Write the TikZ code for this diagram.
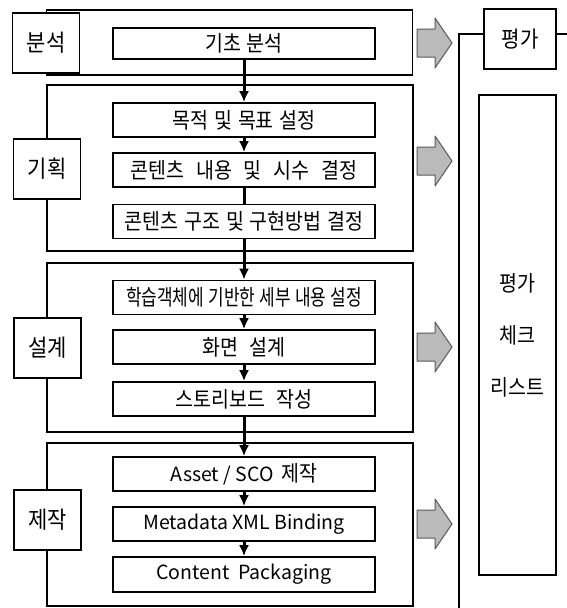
\documentclass[tikz,border=0pt]{standalone}
\usepackage{fontspec}
\usepackage{graphicx}
\setmainfont{Noto Sans CJK KR}
\usetikzlibrary{arrows.meta}
\newcommand{\kt}[1]{\scalebox{1}[1.12]{#1}}
\begin{document}
\begin{tikzpicture}[x=1pt,y=-1pt,
  phase/.style={draw,line width=1.3pt,minimum width=366pt,inner sep=0pt},
  lab/.style={draw,fill=white,line width=1.3pt,minimum width=67pt,minimum height=60pt,inner sep=0pt,font=\fontsize{21}{24}\selectfont},
  stepbox/.style={draw,fill=white,line width=1.6pt,minimum width=262pt,minimum height=34pt,inner sep=0pt,font=\fontsize{19.5}{22}\selectfont},
  latin/.style={font=\fontsize{19.5}{22}\selectfont},
  conn/.style={line width=3pt,-{Latex[length=11pt,width=10pt]}},
  plainconn/.style={line width=3pt},
  blk/.style={draw=black!65,fill=black!27,line width=1pt,line join=round},
  evalbox/.style={draw,line width=1.3pt,inner sep=0pt,font=\fontsize{20}{22}\selectfont}]
\useasboundingbox (0,0) rectangle (567,608);
% phase containers
\node[phase,minimum height=65pt] (p1) at (229.5,42.5) {};
\node[phase,minimum height=166pt] (p2) at (230,168) {};
\node[phase,minimum height=169pt] (p3) at (230,347.5) {};
\node[phase,minimum height=163pt] (p4) at (230,524.5) {};
% phase labels
\node[lab] (l1) at (46,43) {\kt{분석}};
\node[lab] (l2) at (47,169) {\kt{기획}};
\node[lab] (l3) at (47.5,348) {\kt{설계}};
\node[lab] (l4) at (47.5,520) {\kt{제작}};
% steps
\node[stepbox,minimum height=31pt] (s1) at (244,43.5) {\kt{기초\hspace{6pt}분석}};
\node[stepbox] (s2) at (244,120) {\kt{목적\hspace{6pt}및\hspace{6pt}목표\hspace{6pt}설정}};
\node[stepbox] (s3) at (244,170) {\kt{콘텐츠\hspace{12pt}내용\hspace{12pt}및\hspace{12pt}시수\hspace{12pt}결정}};
\node[stepbox] (s4) at (244,221.5) {\kt{콘텐츠\hspace{6pt}구조\hspace{6pt}및\hspace{6pt}구현방법\hspace{6pt}결정}};
\node[stepbox] (s5) at (244,297.5) {\scalebox{0.87}[1.12]{학습객체에\hspace{5pt}기반한\hspace{5pt}세부\hspace{5pt}내용\hspace{5pt}설정}};
\node[stepbox] (s6) at (244,347) {\kt{화면\hspace{12pt}설계}};
\node[stepbox] (s7) at (244,399) {\kt{스토리보드\hspace{11pt}작성}};
\node[stepbox,latin] (s8) at (244,474) {Asset / SCO\hspace{8pt}\kt{제작}};
\node[stepbox,latin] (s9) at (244,524) {Metadata XML Binding};
\node[stepbox,latin,minimum height=35pt] (s10) at (244,574.5) {Content\hspace{9pt}Packaging};
% connectors
\draw[conn] (s1) -- (s2);
\draw[conn] (s2) -- (s3);
\draw[plainconn] (s3) -- (s4);
\draw[conn] (s4) -- (s5);
\draw[conn] (s5) -- (s6);
\draw[conn] (s6) -- (s7);
\draw[conn] (s7) -- (s8);
\draw[conn] (s8) -- (s9);
\draw[conn] (s9) -- (s10);
% gray block arrows
\foreach \cy in {43,161,347,524}{
  \draw[blk] (417,\cy-14) -- (435,\cy-14) -- (435,\cy-25) -- (452,\cy) -- (435,\cy+25) -- (435,\cy+14) -- (417,\cy+14) -- cycle;
}
% evaluation side
\node[evalbox,minimum width=72pt,minimum height=60pt] (ev) at (520,39) {\kt{평가}};
\node[evalbox,minimum width=77pt,minimum height=480pt,align=center,font=\fontsize{19.5}{52}\selectfont] (ck) at (517.5,335) {\kt{평가}\\\kt{체크}\\\kt{리스트}};
\coordinate (bt) at (459,34);
\coordinate (bb) at (459,608);
\coordinate (br) at (567,34);
\draw[line width=1.3pt] (bb) -- (bt) -- (bt -| ev.west);
\draw[line width=1.3pt] (br -| ev.east) -- (br);
\end{tikzpicture}
\end{document}
